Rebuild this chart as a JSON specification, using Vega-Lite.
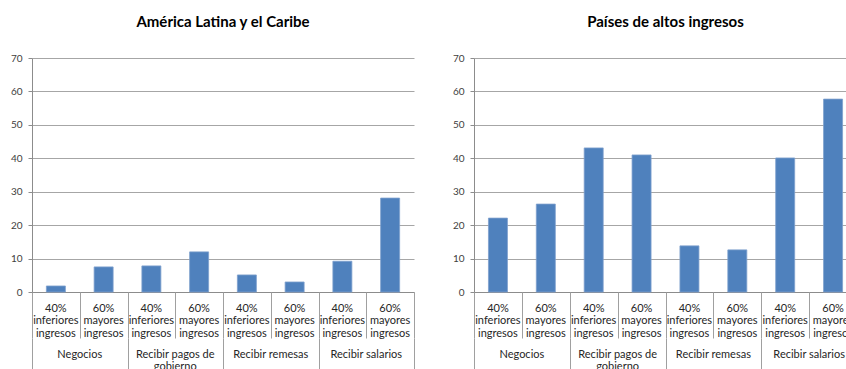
{
  "$schema": "https://vega.github.io/schema/vega-lite/v6.json",
  "padding": {"left": 10, "top": 15, "right": 0, "bottom": 0},
  "background": "white",
  "spacing": 37,
  "datasets": {
    "alc": [
      {"grupo": "Negocios", "categoria": "Negocios 40%", "valor": 1.8},
      {"grupo": "Negocios", "categoria": "Negocios 60%", "valor": 7.5},
      {"grupo": "Recibir pagos de gobierno", "categoria": "Pagos 40%", "valor": 7.8},
      {"grupo": "Recibir pagos de gobierno", "categoria": "Pagos 60%", "valor": 12.0},
      {"grupo": "Recibir remesas", "categoria": "Remesas 40%", "valor": 5.1},
      {"grupo": "Recibir remesas", "categoria": "Remesas 60%", "valor": 3.0},
      {"grupo": "Recibir salarios", "categoria": "Salarios 40%", "valor": 9.2},
      {"grupo": "Recibir salarios", "categoria": "Salarios 60%", "valor": 28.1}
    ],
    "altos": [
      {"grupo": "Negocios", "categoria": "Negocios 40%", "valor": 22.1},
      {"grupo": "Negocios", "categoria": "Negocios 60%", "valor": 26.3},
      {"grupo": "Recibir pagos de gobierno", "categoria": "Pagos 40%", "valor": 43.1},
      {"grupo": "Recibir pagos de gobierno", "categoria": "Pagos 60%", "valor": 41.0},
      {"grupo": "Recibir remesas", "categoria": "Remesas 40%", "valor": 13.8},
      {"grupo": "Recibir remesas", "categoria": "Remesas 60%", "valor": 12.6},
      {"grupo": "Recibir salarios", "categoria": "Salarios 40%", "valor": 40.1},
      {"grupo": "Recibir salarios", "categoria": "Salarios 60%", "valor": 57.7}
    ]
  },
  "hconcat": [
    {
      "width": 382,
      "height": 234,
      "title": {"text": "América Latina y el Caribe"},
      "data": {"name": "alc"},
      "layer": [
        {
          "mark": {"type": "bar", "color": "#4F81BD", "size": 19, "stroke": "#7da0cd", "strokeWidth": 0.8},
          "encoding": {
            "x": {"field": "categoria", "type": "nominal", "sort": null,
                  "scale": {"paddingInner": 0, "paddingOuter": 0},
                  "axis": {"orient": "bottom", "title": null, "domainColor": "#8c8c8c", "ticks": false, "tickSize": 0,
                           "labelAngle": 0, "labelBaseline": "top", "labelPadding": 10, "labelLineHeight": 12.5, "labelOverlap": false,
                           "labelExpr": "indexof(datum.value, '40%') >= 0 ? ['40%', 'inferiores', 'ingresos'] : ['60%', 'mayores', 'ingresos']"}},
            "y": {"field": "valor", "type": "quantitative", "scale": {"domain": [0, 70]},
                  "axis": {"title": null, "values": [0, 10, 20, 30, 40, 50, 60, 70], "grid": true, "gridColor": "#a6a6a6", "domainColor": "#8c8c8c", "tickColor": "#8c8c8c", "tickSize": 4, "labelPadding": 6, "labelFontSize": 10, "labelColor": "#404040"}}
          }
        },
        {
          "mark": {"type": "bar", "opacity": 0},
          "encoding": {
            "x": {"field": "categoria", "type": "nominal", "sort": null,
                  "scale": {"paddingInner": 0, "paddingOuter": 0},
                  "axis": {"orient": "bottom", "title": null, "domain": false, "labels": false, "tickBand": "extent", "tickSize": 46, "tickColor": "#a0a0a0"}}
          }
        },
        {
          "mark": {"type": "bar", "opacity": 0},
          "encoding": {
            "x": {"field": "grupo", "type": "nominal", "sort": null,
                  "scale": {"paddingInner": 0, "paddingOuter": 0},
                  "axis": {"orient": "bottom", "offset": 46, "title": null, "domain": false, "labels": false, "tickBand": "extent", "tickSize": 34, "tickColor": "#a0a0a0"}}
          }
        },
        {
          "mark": {"type": "bar", "opacity": 0},
          "encoding": {
            "x": {"field": "grupo", "type": "nominal", "sort": null,
                  "scale": {"paddingInner": 0, "paddingOuter": 0},
                  "axis": {"orient": "bottom", "offset": 46, "title": null, "domain": false, "ticks": false, "tickSize": 0,
                           "labelAngle": 0, "labelBaseline": "top", "labelPadding": 10, "labelLineHeight": 12.5, "labelOverlap": false,
                           "labelExpr": "datum.value == 'Recibir pagos de gobierno' ? ['Recibir pagos de', 'gobierno'] : datum.label"}}
          }
        }
      ],
      "resolve": {"scale": {"x": "independent"}, "axis": {"x": "independent"}}
    },
    {
      "width": 383,
      "height": 234,
      "title": {"text": "Países de altos ingresos"},
      "data": {"name": "altos"},
      "layer": [
        {
          "mark": {"type": "bar", "color": "#4F81BD", "size": 19, "stroke": "#7da0cd", "strokeWidth": 0.8},
          "encoding": {
            "x": {"field": "categoria", "type": "nominal", "sort": null,
                  "scale": {"paddingInner": 0, "paddingOuter": 0},
                  "axis": {"orient": "bottom", "title": null, "domainColor": "#8c8c8c", "ticks": false, "tickSize": 0,
                           "labelAngle": 0, "labelBaseline": "top", "labelPadding": 10, "labelLineHeight": 12.5, "labelOverlap": false,
                           "labelExpr": "indexof(datum.value, '40%') >= 0 ? ['40%', 'inferiores', 'ingresos'] : ['60%', 'mayores', 'ingresos']"}},
            "y": {"field": "valor", "type": "quantitative", "scale": {"domain": [0, 70]},
                  "axis": {"title": null, "values": [0, 10, 20, 30, 40, 50, 60, 70], "grid": true, "gridColor": "#a6a6a6", "domainColor": "#8c8c8c", "tickColor": "#8c8c8c", "tickSize": 4, "labelPadding": 6, "labelFontSize": 10, "labelColor": "#404040"}}
          }
        },
        {
          "mark": {"type": "bar", "opacity": 0},
          "encoding": {
            "x": {"field": "categoria", "type": "nominal", "sort": null,
                  "scale": {"paddingInner": 0, "paddingOuter": 0},
                  "axis": {"orient": "bottom", "title": null, "domain": false, "labels": false, "tickBand": "extent", "tickSize": 46, "tickColor": "#a0a0a0"}}
          }
        },
        {
          "mark": {"type": "bar", "opacity": 0},
          "encoding": {
            "x": {"field": "grupo", "type": "nominal", "sort": null,
                  "scale": {"paddingInner": 0, "paddingOuter": 0},
                  "axis": {"orient": "bottom", "offset": 46, "title": null, "domain": false, "labels": false, "tickBand": "extent", "tickSize": 34, "tickColor": "#a0a0a0"}}
          }
        },
        {
          "mark": {"type": "bar", "opacity": 0},
          "encoding": {
            "x": {"field": "grupo", "type": "nominal", "sort": null,
                  "scale": {"paddingInner": 0, "paddingOuter": 0},
                  "axis": {"orient": "bottom", "offset": 46, "title": null, "domain": false, "ticks": false, "tickSize": 0,
                           "labelAngle": 0, "labelBaseline": "top", "labelPadding": 10, "labelLineHeight": 12.5, "labelOverlap": false,
                           "labelExpr": "datum.value == 'Recibir pagos de gobierno' ? ['Recibir pagos de', 'gobierno'] : datum.label"}}
          }
        }
      ],
      "resolve": {"scale": {"x": "independent"}, "axis": {"x": "independent"}}
    }
  ],
  "config": {
    "view": {"stroke": null},
    "font": "Lato",
    "axis": {"labelFont": "Lato", "labelFontSize": 11, "labelColor": "#262626"},
    "title": {"font": "Lato", "fontSize": 15, "fontWeight": "bold", "color": "#000000", "anchor": "middle", "offset": 23}
  }
}
